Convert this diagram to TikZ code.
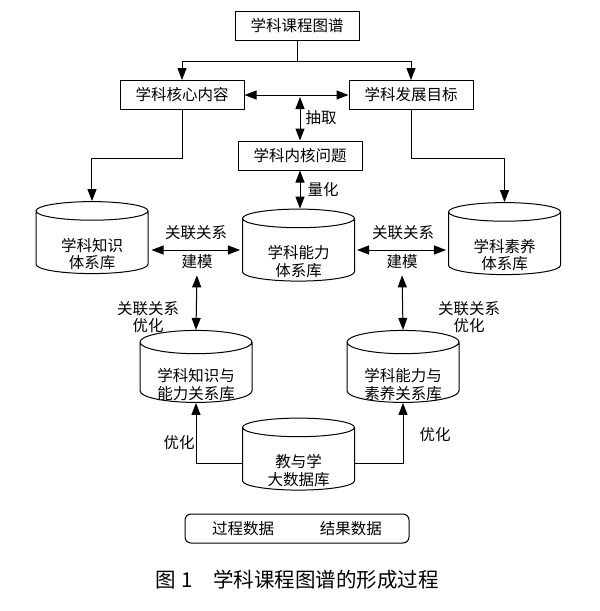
\documentclass[tikz,border=0pt]{standalone}
\usepackage{fontspec}
\setmainfont{Noto Sans CJK SC}
\usetikzlibrary{shapes.geometric, arrows.meta}
\renewcommand{\arraystretch}{0.92}
\newcommand{\cyltext}[2]{\raisebox{-17pt}[0pt][0pt]{\begin{tabular}{@{}c@{}}#1\\#2\end{tabular}}}
\tikzstyle{box} = [draw, line width=1pt, minimum width=124pt, minimum height=29pt, inner sep=0pt]
\tikzstyle{store} = [cylinder, shape border rotate=90, draw, line width=1pt, aspect=0.3, minimum width=112pt, minimum height=72pt, inner sep=0pt]
\tikzstyle{tag} = [inner sep=1pt, align=center]
\tikzstyle{arrow} = [line width=1pt, -{Triangle[length=12pt,width=9pt]}]
\tikzstyle{darrow} = [line width=1pt, {Triangle[length=12pt,width=9pt]}-{Triangle[length=12pt,width=9pt]}]

\begin{document}
\begin{tikzpicture}[x=1pt, y=-1pt, font=\fontsize{15.5}{17.5}\selectfont]
      \useasboundingbox (0,0) rectangle (600,611);
      % Nodes
      \node[box] (map) at (297,25.5) {学科课程图谱};
      \node[box] (core) at (182,95) {学科核心内容};
      \node[box] (goal) at (411,95) {学科发展目标};
      \node[box] (issue) at (300,155.5) {学科内核问题};
      \node[store] (kd) at (92,242.5) {\cyltext{学科知识}{体系库}};
      \node[store] (nl) at (298.5,250) {\cyltext{学科能力}{体系库}};
      \node[store] (sy) at (504.5,243.5) {\cyltext{学科素养}{体系库}};
      \node[store] (kn) at (196,372.5) {\cyltext{学科知识与}{能力关系库}};
      \node[store] (ns) at (403,372.5) {\cyltext{学科能力与}{素养关系库}};
      \node[store] (dbase) at (298.5,459) {\cyltext{教与学}{大数据库}};
      \node[draw, line width=1pt, rounded corners=6pt, minimum width=224pt, minimum height=29pt] (data) at (297,528.5) {过程数据\hspace{46pt}结果数据};
      \node[font=\fontsize{20.5}{22}\selectfont] (cap) at (297,580) {图\hspace{6pt}1\hspace{20pt}学科课程图谱的形成过程};
      \coordinate (split) at (297,61);

      % Labels
      \node[tag] (cq) at (321,118) {抽取};
      \node[tag] (lh) at (323,190) {量化};
      \node[tag] (gx1) at (196,233) {关联关系};
      \node[tag] (jm1) at (197,262) {建模};
      \node[tag] (gx2) at (403,233) {关联关系};
      \node[tag] (jm2) at (402,262) {建模};
      \node[tag] (yh1) at (148,317) {关联关系\\优化};
      \node[tag] (yh2) at (469,317) {关联关系\\优化};
      \node[tag] (yh3) at (179,443) {优化};
      \node[tag] (yh4) at (435,435) {优化};

      % Edges
      \draw[line width=1pt] (map.south) -- (split);
      \draw[arrow] (split) -| (core.north);
      \draw[arrow] (split) -| (goal.north);
      \draw[darrow] (core.east) -- (goal.west);
      \draw[darrow] ([yshift=-2pt]issue.north |- core.east) -- (issue.north);
      \draw[darrow] (issue.south) -- (issue.south |- nl.north);
      \draw[arrow] (core.south) -- ++(0,48) -| (kd.north);
      \draw[arrow] (goal.south) -- ++(0,48) -| (sy.north);
      \draw[darrow, shorten <=3pt, shorten >=2pt] (kd.east |- nl.west) -- (nl.west);
      \draw[darrow, shorten <=2pt, shorten >=2pt] (nl.east) -- (sy.west |- nl.east);
      \draw[darrow, shorten <=5pt] (jm1.south) -- (kn.north);
      \draw[darrow, shorten <=5pt] (jm2.south) -- (ns.north);
      \draw[arrow] ([yshift=-4pt]dbase.west) -| (kn.south);
      \draw[arrow] ([yshift=-4pt]dbase.east) -| (ns.south);
  \end{tikzpicture}
\end{document}
